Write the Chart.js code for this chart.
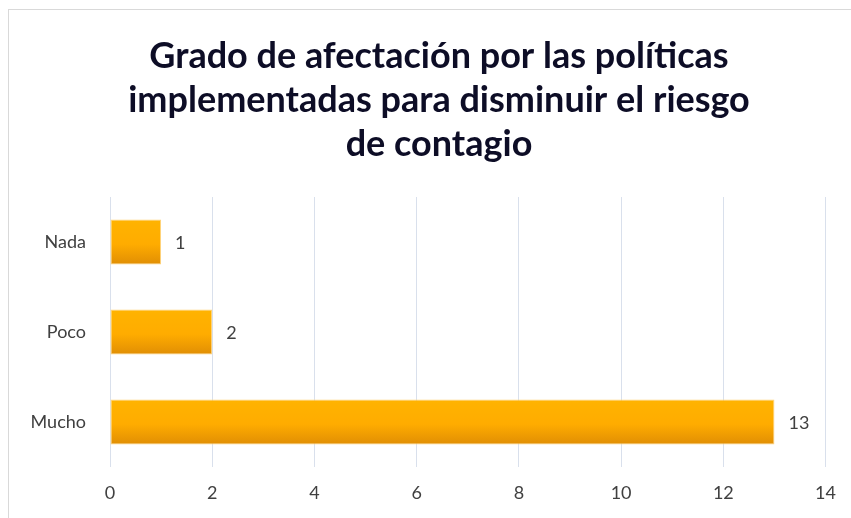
<!DOCTYPE html>
<html>
<head>
<meta charset="utf-8">
<script src="https://cdn.jsdelivr.net/npm/chart.js@4.4.1/dist/chart.umd.min.js"></script>
<style>
  html, body { margin: 0; padding: 0; background: #fff; }
  #wrap { width: 851px; height: 518px; }
</style>
</head>
<body>
<div id="wrap"><canvas id="chart"></canvas></div>
<script>
var categories = ["Nada", "Poco", "Mucho"];
var values = [1, 2, 13];
var xTicks = [0, 2, 4, 6, 8, 10, 12, 14];
var titleLines = [
  "Grado de afectación por las políticas",
  "implementadas para disminuir el riesgo",
  "de contagio"
];

var FONT = "Lato, 'Noto Sans', sans-serif";

// light frame round the whole chart, plus the title (centred a bit right of the canvas middle)
var framePlugin = {
  id: "frame",
  beforeDraw: function (chart) {
    var c = chart.ctx;
    c.save();
    c.fillStyle = "#fff";
    c.fillRect(0, 0, chart.width, chart.height);
    c.strokeStyle = "#d9d9d9";
    c.lineWidth = 1;
    c.strokeRect(8.5, 9.5, chart.width, chart.height);
    c.fillStyle = "#0d0d26";
    c.font = "bold 36px " + FONT;
    c.textAlign = "center";
    c.textBaseline = "middle";
    titleLines.forEach(function (t, i) {
      c.fillText(t, 439, 56 + i * 44);
    });
    c.restore();
  }
};

// vertical orange gradient on each bar, darker towards the bottom
var gradientPlugin = {
  id: "barGradient",
  beforeDatasetsDraw: function (chart) {
    var c = chart.ctx;
    chart.getDatasetMeta(0).data.forEach(function (bar) {
      var top = bar.y - bar.height / 2;
      var g = c.createLinearGradient(0, top, 0, top + bar.height);
      g.addColorStop(0, "#FFB300");
      g.addColorStop(0.55, "#FFAC00");
      g.addColorStop(1, "#E08E04");
      bar.options.backgroundColor = g;
    });
  }
};

// value labels at the bar ends
var valueLabels = {
  id: "valueLabels",
  afterDatasetsDraw: function (chart) {
    var c = chart.ctx;
    var meta = chart.getDatasetMeta(0);
    c.save();
    c.font = "18px " + FONT;
    c.fillStyle = "#404040";
    c.textAlign = "left";
    c.textBaseline = "middle";
    meta.data.forEach(function (bar, i) {
      c.fillText(values[i], bar.x + 14, bar.y + 1);
    });
    c.restore();
  }
};

new Chart(document.getElementById("chart"), {
  type: "bar",
  data: {
    labels: categories,
    datasets: [{
      data: values,
      // scriptable so every bar keeps its own options object
      backgroundColor: function () { return "#FFAE00"; },
      borderColor: "#FFD27A",
      borderWidth: 1,
      borderSkipped: false,
      barPercentage: 0.5,
      categoryPercentage: 1
    }]
  },
  options: {
    indexAxis: "y",
    responsive: true,
    maintainAspectRatio: false,
    animation: false,
    layout: { padding: { left: 0, right: 25, top: 197, bottom: 0 } },
    plugins: {
      legend: { display: false },
      tooltip: { enabled: false },
      title: { display: false }
    },
    scales: {
      x: {
        min: 0,
        max: 14,
        afterBuildTicks: function (scale) {
          scale.ticks = xTicks.map(function (v) { return { value: v }; });
        },
        afterFit: function (scale) { scale.height = 51; },
        grid: { color: "#d9e0ec", drawTicks: false, lineWidth: 1 },
        border: { display: false },
        ticks: { color: "#404040", padding: 15, font: { family: FONT, size: 18 } }
      },
      y: {
        afterFit: function (scale) { scale.width = 110; },
        grid: { display: false },
        border: { display: false },
        ticks: { color: "#404040", padding: 16, font: { family: FONT, size: 18 } }
      }
    }
  },
  plugins: [framePlugin, gradientPlugin, valueLabels]
});
</script>
</body>
</html>
